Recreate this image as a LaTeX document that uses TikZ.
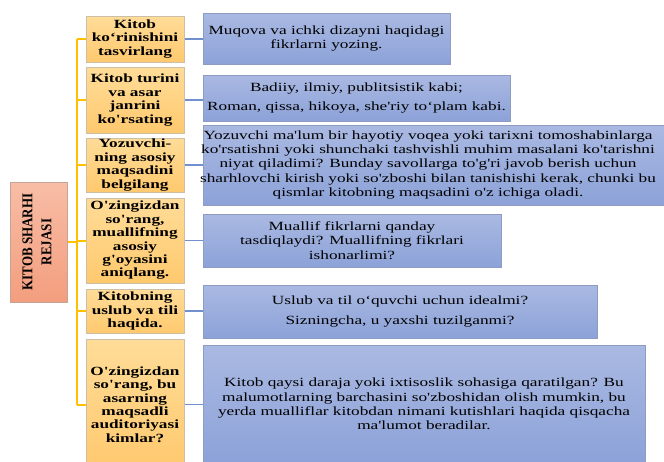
\documentclass[tikz,border=0pt]{standalone}
\usepackage{fontspec}
\usepackage{graphicx}
\newfontfamily\uzfont{Liberation Serif}[FakeStretch=1.38]
\newfontfamily\rotfont{Liberation Serif}
\definecolor{ordline}{HTML}{FFC000}
\definecolor{bline}{HTML}{7090D0}
\definecolor{otop}{HTML}{FFDC98}
\definecolor{obot}{HTML}{FFC96E}
\definecolor{oborder}{HTML}{CDBFA6}
\definecolor{btop}{HTML}{AAB9E2}
\definecolor{bbot}{HTML}{8CA2D8}
\definecolor{bborder}{HTML}{8E9CC2}
\definecolor{stop}{HTML}{F8BDA6}
\definecolor{sbot}{HTML}{F39E7E}
\definecolor{sborder}{HTML}{C4A494}
\tikzset{
 midbox/.style={draw=oborder, line width=1pt, top color=otop, bottom color=obot,
   minimum width=98pt, inner sep=0pt, align=center,
   font=\uzfont\bfseries\fontsize{12.5}{13.4}\selectfont},
 rbox/.style={draw=bborder, line width=1pt, top color=btop, bottom color=bbot,
   inner sep=0pt, align=center, font=\uzfont\fontsize{12.5}{14.3}\selectfont},
 rtext/.style={inner sep=0pt, align=center, font=\uzfont\fontsize{12.5}{14.3}\selectfont},
 oline/.style={draw=ordline, line width=2pt},
 bl/.style={draw=bline, line width=1.5pt},
}
\begin{document}
\begin{tikzpicture}[x=1pt,y=-1pt]
\useasboundingbox (0,0) rectangle (664,461);
\clip (0,0) rectangle (664,461);

% left box
\node[draw=sborder, line width=1pt, top color=stop, bottom color=sbot,
  minimum width=57pt, minimum height=120pt, inner sep=0pt] (left) at (38.5,242) {};
\node[rotate=90, inner sep=0pt] (lt) at (38,242)
  {\scalebox{1}[1.15]{\rotfont\bfseries\fontsize{13}{16.5}\selectfont
   \begin{tabular}{@{}c@{}}KITOB SHARHI\\REJASI\end{tabular}}};

% middle column
\node[midbox, minimum height=46pt] (m1) at (135,39) {Kitob\\ko‘rinishini\\tasvirlang};
\node[midbox, minimum height=66pt] (m2) at (135,100) {Kitob turini\\va asar\\janrini\\ko'rsating};
\node[midbox, minimum height=54pt] (m3) at (135,165) {Yozuvchi-\\ning asosiy\\maqsadini\\belgilang};
\node[midbox, minimum height=85pt] (m4) at (135,240.5) {O'zingizdan\\so'rang,\\muallifning\\asosiy\\g'oyasini\\aniqlang.};
\node[midbox, minimum height=44pt] (m5) at (135,311) {Kitobning\\uslub va tili\\haqida.};
\node[midbox, minimum height=131pt] (m6) at (135,404.5) {O'zingizdan\\so'rang, bu\\asarning\\maqsadli\\auditoriyasi\\kimlar?};

% right column
\node[rbox, minimum width=247pt, minimum height=51pt] (r1) at (326.5,38.5)
  {Muqova va ichki dizayni haqidagi\\fikrlarni yozing.};
\node[rbox, minimum width=307pt, minimum height=46pt] (r2) at (356.5,98)
  {Badiiy, ilmiy, publitsistik kabi;\\[5.5pt]Roman, qissa, hikoya, she'riy to‘plam kabi.};
\node[rbox, minimum width=480pt, minimum height=80pt] (r3) at (443,165) {};
\node[rtext] (r3t) at (428,165)
  {Yozuvchi ma'lum bir hayotiy voqea yoki tarixni tomoshabinlarga\\
   ko'rsatishni yoki shunchaki tashvishli muhim masalani ko'tarishni\\
   niyat qiladimi? Bunday savollarga to'g'ri javob berish uchun\\
   sharhlovchi kirish yoki so'zboshi bilan tanishishi kerak, chunki bu\\
   qismlar kitobning maqsadini o'z ichiga oladi.};
\node[rbox, minimum width=298pt, minimum height=53pt] (r4) at (352,240.5)
  {Muallif fikrlarni qanday\\tasdiqlaydi? Muallifning fikrlari\\ishonarlimi?};
\node[rbox, minimum width=394pt, minimum height=53pt] (r5) at (400,311.5)
  {Uslub va til o‘quvchi uchun idealmi?\\[5.5pt]Sizningcha, u yaxshi tuzilganmi?};
\node[rbox, minimum width=442pt, minimum height=118pt] (r6) at (424,404)
  {Kitob qaysi daraja yoki ixtisoslik sohasiga qaratilgan? Bu\\
   malumotlarning barchasini so'zboshidan olish mumkin, bu\\
   yerda mualliflar kitobdan nimani kutishlari haqida qisqacha\\
   ma'lumot beradilar.};

% orange connectors
\coordinate (ttop) at (77,39);
\coordinate (tbot) at (77,404.5);
\draw[oline] (ttop) -- (tbot);
\draw[oline] (left.east) -- (left.east -| ttop);
\foreach \m in {m1,m2,m3,m4,m5,m6}{
  \draw[oline] (\m.west -| ttop) -- (\m.west);
}
% blue connectors
\draw[bl] (m1.east) -- (m1.east -| r1.west);
\draw[bl] (m2.east) -- (m2.east -| r2.west);
\draw[bl] (m3.east) -- (m3.east -| r3.west);
\draw[bl] (m4.east) -- (m4.east -| r4.west);
\draw[bl] (m5.east) -- (m5.east -| r5.west);
\draw[bl] (m6.east) -- (m6.east -| r6.west);
\end{tikzpicture}
\end{document}
